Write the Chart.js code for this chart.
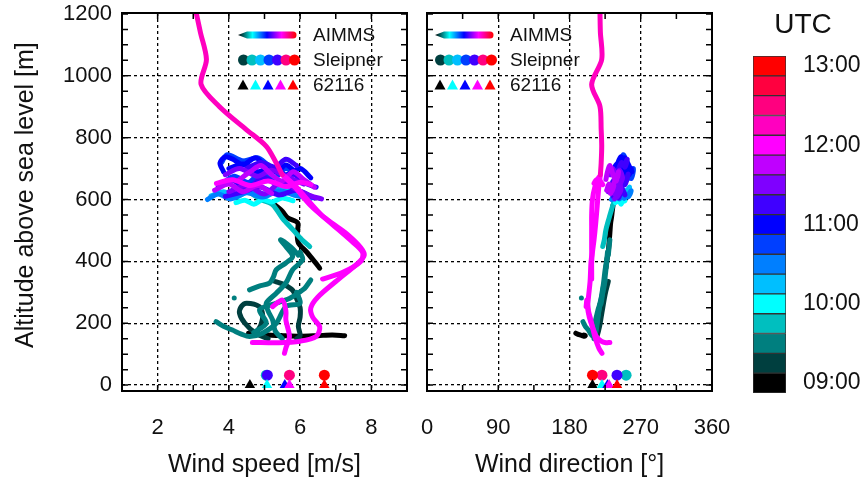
<!DOCTYPE html>
<html>
<head>
<meta charset="utf-8"/>
<script src="https://cdn.jsdelivr.net/npm/chart.js"></script>
<style>
  body { margin: 0; background: #fff; }
  #wrap { position: relative; width: 861px; height: 480px; overflow: hidden; }
  canvas { position: absolute; top: 0; }
</style>
</head>
<body>
<div id="wrap">
  <canvas id="speedChart" width="415" height="480" style="left:0px"></canvas>
  <canvas id="dirChart" width="330" height="480" style="left:415px"></canvas>
  <canvas id="utcChart" width="116" height="480" style="left:745px"></canvas>
</div>
<script>
const FONT = '"Liberation Sans", Arial, Helvetica, sans-serif';

// colour scale, one step per 15 min from 09:00 to 13:00
const utcColors = ['#000000', '#003f3f', '#007f7f', '#00bfbf', '#00ffff', '#00bfff', '#007fff', '#003fff',
  '#0000ff', '#3f00ff', '#7f00ff', '#bf00ff', '#ff00ff', '#ff00bf', '#ff007f', '#ff003f', '#ff0000'];
const utcTickPos = [0.5, 4.5, 8.5, 12.5, 16.5];
const utcTickLabels = ['09:00', '10:00', '11:00', '12:00', '13:00'];

const altTicks = [0, 200, 400, 600, 800, 1000, 1200];
const speedTicks = [2, 4, 6, 8];
const dirTicks = [0, 90, 180, 270, 360];

// AIMMS flight legs: time step index, altitude [m], wind speed [m/s], wind direction [deg]
const legTime = [0, 0, 1, 1, 2, 2, 2, 2, 3, 4, 5, 6, 7, 7, 8, 8, 9, 9, 9, 10, 10, 11, 11, 12, 12, 12, 12, 13];
const legAlt = [
  [168, 163, 160, 158, 160, 162, 160],
  [378, 400, 432, 460, 492, 525, 541, 562, 582],
  [150, 168, 200, 232, 254, 265, 254, 225, 195, 170, 155],
  [335, 325, 305, 280, 250, 220, 190, 160, 150],
  [205, 190, 178, 165, 157, 168, 200, 254, 265, 300],
  [308, 320, 330, 350, 373, 395, 416, 448, 470, 445, 420],
  [150, 175, 210, 240, 265, 297, 330, 373, 405, 430],
  [170, 200, 243, 260, 280, 310, 340],
  [622, 600, 583, 540, 502, 470, 448],
  [590, 598, 585, 600, 592, 605, 596],
  [612, 625, 608, 630, 618, 640, 622, 610],
  [600, 618, 602, 622, 608, 628, 612, 604],
  [650, 675, 655, 690, 668, 700, 672, 655],
  [720, 745, 725, 735, 712],
  [690, 718, 738, 728, 712, 735, 705, 690, 712, 685],
  [700, 715, 690, 705, 680, 700, 670],
  [640, 662, 632, 672, 648, 682, 652, 640],
  [610, 625, 640, 615, 630, 605],
  [700, 720, 705, 730, 710],
  [625, 645, 618, 655, 632, 612, 602],
  [680, 700, 675, 695, 670, 650],
  [665, 690, 710, 680, 660, 690, 665, 640],
  [630, 650, 625, 645, 620],
  [652, 664, 645, 660, 642, 656, 648],
  [672, 640, 600, 550, 515, 485, 445, 420, 392, 335, 285, 250, 220, 188, 157, 142, 137, 138],
  [680, 640, 580, 520, 470, 430, 400, 365, 343],
  [254, 275, 240, 210, 157, 120, 103],
  [1205, 1141, 1053, 972, 901, 827, 772, 718, 680]
];
const legSpeed = [
  [4.55, 5.0, 5.5, 6.0, 6.5, 6.9, 7.25],
  [6.55, 6.4, 6.17, 5.95, 5.92, 5.93, 5.65, 5.5, 5.3],
  [5.1, 4.75, 4.45, 4.3, 4.35, 4.5, 4.85, 4.95, 4.9, 4.8, 5.0],
  [5.3, 5.55, 5.8, 5.9, 6.0, 6.0, 5.95, 6.0, 5.9],
  [3.64, 3.85, 4.1, 4.35, 4.58, 4.94, 5.33, 5.6, 6.0, 5.9],
  [4.58, 4.85, 5.14, 5.25, 5.33, 5.6, 5.79, 5.6, 5.45, 5.75, 5.95],
  [5.5, 5.3, 5.23, 5.1, 5.05, 5.33, 5.6, 5.79, 6.07, 6.0],
  [4.7, 5.05, 4.86, 5.2, 5.7, 6.1, 6.3],
  [4.6, 4.9, 5.23, 5.5, 5.8, 6.05, 6.27],
  [4.2, 4.45, 4.7, 4.95, 5.2, 5.5, 5.8],
  [3.5, 3.85, 4.2, 4.6, 5.0, 5.4, 5.8, 6.1],
  [3.4, 3.7, 4.05, 4.5, 4.95, 5.4, 5.9, 6.3],
  [3.8, 4.15, 4.55, 4.9, 5.25, 5.6, 5.95, 6.2],
  [3.8, 3.95, 4.4, 4.8, 5.1],
  [3.85, 3.75, 3.9, 4.15, 4.4, 4.75, 5.05, 5.35, 5.6, 5.9],
  [4.0, 4.4, 4.8, 5.2, 5.6, 6.0, 6.3],
  [3.7, 4.1, 4.5, 4.95, 5.4, 5.8, 6.15, 6.45],
  [3.9, 4.4, 4.9, 5.4, 5.9, 6.4],
  [4.5, 4.9, 5.3, 5.6, 5.9],
  [4.0, 4.5, 5.0, 5.45, 5.9, 6.3, 6.6],
  [3.9, 4.3, 4.8, 5.2, 5.7, 6.1],
  [4.3, 4.6, 4.9, 5.2, 5.5, 5.8, 6.1, 6.4],
  [3.6, 4.0, 4.4, 4.8, 5.2],
  [3.65, 4.1, 4.6, 5.1, 5.6, 6.0, 6.3],
  [5.6, 5.9, 6.2, 6.6, 7.0, 7.35, 7.7, 7.8, 7.6, 7.0, 6.5, 6.3, 6.35, 6.55, 6.45, 6.0, 5.4, 4.66],
  [5.5, 5.85, 6.3, 6.9, 7.4, 7.75, 7.7, 7.2, 6.63],
  [5.23, 5.5, 5.6, 5.6, 5.7, 5.6, 5.56],
  [3.08, 3.2, 3.37, 3.22, 3.73, 4.48, 5.05, 5.33, 5.5]
];
const legDir = [
  [188, 192, 196, 199, 200, 198, 196],
  [226, 227, 229, 230, 231, 232, 233, 234, 235],
  [213, 213, 214, 216, 218, 219, 220, 219, 217, 215, 213],
  [229, 228, 226, 224, 222, 220, 218, 215, 213],
  [197, 200, 204, 207, 210, 213, 215, 218, 220, 222],
  [222, 223, 224, 225, 226, 227, 228, 230, 231, 230, 229],
  [211, 213, 215, 217, 219, 221, 223, 225, 227, 228],
  [209, 212, 216, 218, 220, 223, 225],
  [240, 237, 235, 230, 226, 224, 222],
  [238, 242, 245, 248, 244, 247, 250],
  [236, 240, 244, 249, 253, 256, 251, 247],
  [233, 238, 243, 248, 254, 258, 253, 249],
  [240, 245, 249, 254, 258, 261, 255, 249],
  [244, 248, 251, 246, 243],
  [238, 241, 245, 249, 252, 250, 256, 259, 254, 250],
  [236, 240, 245, 250, 255, 258, 252],
  [232, 236, 241, 246, 250, 254, 250, 245],
  [235, 240, 245, 250, 247, 242],
  [242, 246, 250, 253, 249],
  [229, 233, 237, 242, 245, 241, 237],
  [231, 235, 239, 243, 247, 244],
  [226, 228, 231, 235, 239, 242, 238, 234],
  [227, 230, 233, 236, 232],
  [211, 214, 217, 219, 216, 220, 222],
  [217, 212, 209, 208, 208, 208, 208, 208, 207, 206, 204, 203, 205, 209, 214, 220, 226, 231],
  [219, 217, 215, 213, 211, 209, 208, 208, 208],
  [201, 202, 204, 207, 212, 217, 221],
  [218.5, 219, 220.7, 208, 218.5, 220, 220.7, 220, 219]
];
// single stray AIMMS sample
const strayTime = 2, strayAlt = 282, straySpeed = 4.15, strayDir = 195;

// Sleipner platform
const sleipnerTime = [3, 9, 14, 16];
const sleipnerAlt = [32, 32, 32, 32];
const sleipnerSpeed = [5.05, 5.08, 5.7, 6.68];
const sleipnerDir = [251.5, 240, 221, 209];
const sleipnerLegendTimes = [1, 3, 5, 7, 9, 14, 16];

// station 62116
const buoyTime = [0, 4, 8, 12, 16];
const buoyAlt = [0, 0, 0, 0, 0];
const buoySpeed = [4.59, 5.07, 5.57, 5.7, 6.68];
const buoyDir = [209, 221, 228, 230, 240];

const legendNames = ['AIMMS', 'Sleipner', '62116'];

Chart.defaults.font.family = FONT;
Chart.defaults.color = '#111';

// frame + inward minor ticks on all four sides
const frameTicks = {
  id: 'frameTicks',
  afterDatasetsDraw(chart, args, o) {
    const {ctx, chartArea: a, scales: {x, y}} = chart;
    ctx.save();
    ctx.strokeStyle = '#000';
    ctx.lineWidth = 1.5;
    ctx.beginPath();
    for (let v = o.xFrom; v <= o.xTo + 1e-6; v += o.xStep) {
      const px = x.getPixelForValue(v);
      ctx.moveTo(px, a.bottom); ctx.lineTo(px, a.bottom - 6);
      ctx.moveTo(px, a.top); ctx.lineTo(px, a.top + 6);
    }
    for (let v = o.yFrom; v <= o.yTo + 1e-6; v += o.yStep) {
      const py = y.getPixelForValue(v);
      ctx.moveTo(a.left, py); ctx.lineTo(a.left + 6, py);
      ctx.moveTo(a.right, py); ctx.lineTo(a.right - 6, py);
    }
    ctx.stroke();
    ctx.lineWidth = 2;
    ctx.strokeRect(a.left, a.top, a.right - a.left, a.bottom - a.top);
    ctx.restore();
  }
};

// hand drawn legend (colour ramp line, circles, triangles)
const miniLegend = {
  id: 'miniLegend',
  afterDatasetsDraw(chart, args, o) {
    const {ctx, chartArea: a} = chart;
    const x0 = a.left + o.dx;
    const rows = [a.top + 22, a.top + 47, a.top + 72];
    ctx.save();
    const grad = ctx.createLinearGradient(x0, 0, x0 + 58, 0);
    utcColors.forEach((c, i) => grad.addColorStop(i / (utcColors.length - 1), c));
    ctx.fillStyle = grad;
    ctx.beginPath();
    ctx.moveTo(x0, rows[0]);
    ctx.lineTo(x0 + 9, rows[0] - 3.5);
    ctx.lineTo(x0 + 55, rows[0] - 3.5);
    ctx.arc(x0 + 55, rows[0], 3.5, -Math.PI / 2, Math.PI / 2);
    ctx.lineTo(x0 + 9, rows[0] + 3.5);
    ctx.closePath();
    ctx.fill();
    sleipnerLegendTimes.forEach((t, i) => {
      ctx.fillStyle = utcColors[t];
      ctx.beginPath();
      ctx.arc(x0 + 5.5 + i * 8.5, rows[1], 5.5, 0, 2 * Math.PI);
      ctx.fill();
    });
    buoyTime.forEach((t, i) => {
      const cx = x0 + 5 + i * 12.5;
      ctx.fillStyle = utcColors[t];
      ctx.beginPath();
      ctx.moveTo(cx, rows[2] - 5.5);
      ctx.lineTo(cx + 5.5, rows[2] + 4.5);
      ctx.lineTo(cx - 5.5, rows[2] + 4.5);
      ctx.closePath();
      ctx.fill();
    });
    ctx.fillStyle = '#111';
    ctx.font = '19px ' + FONT;
    ctx.textBaseline = 'middle';
    legendNames.forEach((s, i) => ctx.fillText(s, x0 + 75, rows[i] + 1));
    ctx.restore();
  }
};

function buildDatasets(legValues, strayX, sleipnerX, buoyX) {
  const sets = legTime.map((t, k) => ({
    showLine: true,
    data: legAlt[k].map((alt, i) => ({x: legValues[k][i], y: alt})),
    borderColor: utcColors[t],
    backgroundColor: utcColors[t],
    borderWidth: 5,
    borderCapStyle: 'round',
    borderJoinStyle: 'round',
    tension: 0.3,
    pointRadius: 0,
    order: 100 - t
  }));
  sets.push({
    data: [{x: strayX, y: strayAlt}],
    pointRadius: 2.5, pointBorderWidth: 0,
    pointBackgroundColor: utcColors[strayTime], order: 50
  });
  sets.push({
    data: sleipnerTime.map((t, i) => ({x: sleipnerX[i], y: sleipnerAlt[i]})),
    pointStyle: 'circle', pointRadius: 5.5, pointBorderWidth: 0,
    pointBackgroundColor: sleipnerTime.map(t => utcColors[t]), order: 1
  });
  sets.push({
    data: buoyTime.map((t, i) => ({x: buoyX[i], y: buoyAlt[i]})),
    pointStyle: 'triangle', pointRadius: 6, pointBorderWidth: 0,
    pointBackgroundColor: buoyTime.map(t => utcColors[t]), order: 0
  });
  return sets;
}

function xAxis(min, max, ticks, title) {
  return {
    type: 'linear', min: min, max: max,
    afterBuildTicks: s => { s.ticks = ticks.map(v => ({value: v})); },
    afterFit: s => { s.height = 89; },
    grid: { color: '#000', lineWidth: 1.3, drawTicks: true, tickLength: 25, tickColor: 'rgba(0,0,0,0)' },
    border: { display: false, dash: [3, 3] },
    ticks: { padding: 0, font: { size: 22, lineHeight: 1.1 }, color: '#111', maxRotation: 0, autoSkip: false,
      callback: v => String(v) },
    title: { display: true, text: title, font: { size: 25 }, color: '#111', padding: { top: 0, bottom: 0 } }
  };
}

function yAxis(width, showLabels) {
  return {
    type: 'linear', min: -19, max: 1203,
    afterBuildTicks: s => { s.ticks = altTicks.map(v => ({value: v})); },
    afterFit: s => { s.width = width; },
    grid: { color: c => (c.tick && c.tick.value === 1200) ? 'rgba(0,0,0,0)' : '#000', lineWidth: 1.3,
      drawTicks: true, tickLength: 10, tickColor: 'rgba(0,0,0,0)' },
    border: { display: false, dash: [3, 3] },
    ticks: { display: showLabels, padding: 0, font: { size: 22, lineHeight: 1.1 }, color: '#111',
      callback: v => String(v) },
    title: { display: showLabels, text: '  Altitude above sea level [m]', font: { size: 25 }, color: '#111',
      padding: { top: 11 } }
  };
}

new Chart(document.getElementById('speedChart'), {
  type: 'scatter',
  data: { datasets: buildDatasets(legSpeed, straySpeed, sleipnerSpeed, buoySpeed) },
  options: {
    responsive: false, animation: false,
    layout: { padding: { top: 13, right: 8, left: 0, bottom: 0 } },
    plugins: {
      legend: { display: false }, tooltip: { enabled: false },
      frameTicks: { xFrom: 1, xTo: 9, xStep: 1, yFrom: 0, yTo: 1200, yStep: 50 },
      miniLegend: { dx: 116 }
    },
    scales: { x: xAxis(1, 9, speedTicks, 'Wind speed [m/s]'), y: yAxis(122, true) }
  },
  plugins: [frameTicks, miniLegend]
});

new Chart(document.getElementById('dirChart'), {
  type: 'scatter',
  data: { datasets: buildDatasets(legDir, strayDir, sleipnerDir, buoyDir) },
  options: {
    responsive: false, animation: false,
    layout: { padding: { top: 13, right: 33, left: 0, bottom: 0 } },
    plugins: {
      legend: { display: false }, tooltip: { enabled: false },
      frameTicks: { xFrom: 0, xTo: 360, xStep: 45, yFrom: 0, yTo: 1200, yStep: 50 },
      miniLegend: { dx: 8 }
    },
    scales: { x: xAxis(0, 360, dirTicks, 'Wind direction [°]'), y: yAxis(12, false) }
  },
  plugins: [frameTicks, miniLegend]
});

// colour bar title
const utcTitle = {
  id: 'utcTitle',
  afterDraw(chart) {
    const {ctx, chartArea: a} = chart;
    ctx.save();
    ctx.fillStyle = '#111';
    ctx.font = '28px ' + FONT;
    ctx.textAlign = 'center';
    ctx.textBaseline = 'middle';
    ctx.fillText('UTC', a.left + 50, 25);
    ctx.restore();
  }
};

new Chart(document.getElementById('utcChart'), {
  type: 'bar',
  data: {
    labels: [''],
    datasets: utcColors.map(c => ({
      data: [1], backgroundColor: c, borderColor: '#333', borderWidth: 1,
      borderSkipped: false, barPercentage: 1, categoryPercentage: 1
    }))
  },
  options: {
    responsive: false, animation: false,
    layout: { padding: { top: 56, bottom: 87, left: 8, right: 0 } },
    plugins: { legend: { display: false }, tooltip: { enabled: false } },
    scales: {
      x: { display: false, stacked: true },
      y: {
        stacked: true, position: 'right', min: 0, max: 17,
        afterBuildTicks: s => { s.ticks = utcTickPos.map(v => ({value: v})); },
        afterFit: s => { s.width = 75; },
        grid: { display: false, drawTicks: false }, border: { display: false },
        ticks: { padding: 17, font: { size: 23 }, color: '#111', callback: (v, i) => utcTickLabels[i] }
      }
    }
  },
  plugins: [utcTitle]
});
</script>
</body>
</html>
